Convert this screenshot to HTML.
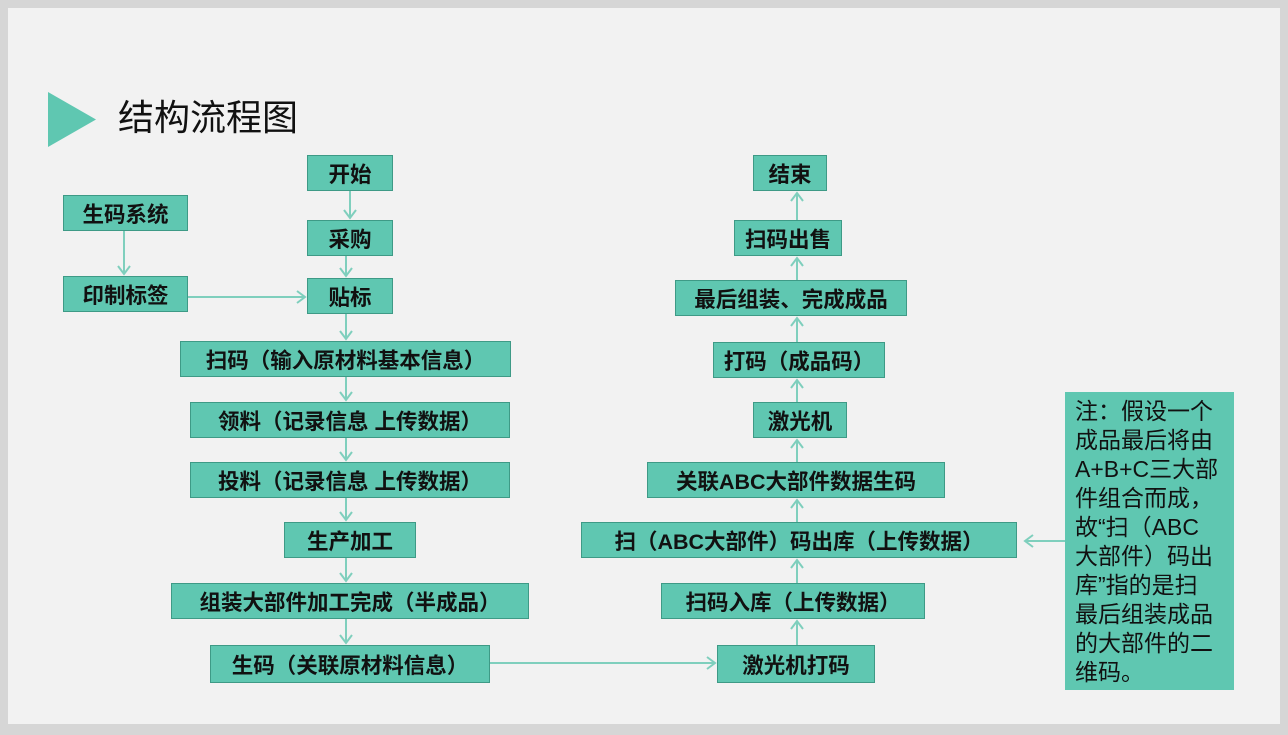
<!DOCTYPE html>
<html><head><meta charset="utf-8"><style>
body{margin:0;width:1288px;height:735px;background:#d6d6d6;position:relative;overflow:hidden;font-family:"Liberation Sans","Noto Sans CJK SC",sans-serif}
.slide{position:absolute;left:8px;top:8px;width:1272px;height:716px;background:#f2f2f2}
.b{position:absolute;box-sizing:border-box;background:#5fc7b1;border:1px solid #3e9a86;display:flex;align-items:center;justify-content:center;font-weight:bold;font-size:21.5px;color:#111;white-space:nowrap}
.note{position:absolute;left:1065px;top:392px;width:169px;height:298px;background:#5fc7b1;box-sizing:border-box;padding:5px 0 0 10px;font-size:23px;line-height:29px;color:#111;white-space:nowrap}
svg{position:absolute;left:0;top:0}
</style></head><body>
<div class="slide"></div>
<svg width="1288" height="735">
<polygon points="48,92 96,119.5 48,147" fill="#5fc7b1"/>
<g stroke="#7fcfbd" stroke-width="2" fill="none">
<path d="M350 191V218M344 210l6 8 6-8"/>
<path d="M346 256V276M340 268l6 8 6-8"/>
<path d="M124 231V274M118 266l6 8 6-8"/>
<path d="M188 297H305M297 291l8 6-8 6"/>
<path d="M346 314V339M340 331l6 8 6-8"/>
<path d="M346 377V400M340 392l6 8 6-8"/>
<path d="M346 438V460M340 452l6 8 6-8"/>
<path d="M346 498V520M340 512l6 8 6-8"/>
<path d="M346 558V581M340 573l6 8 6-8"/>
<path d="M346 619V643M340 635l6 8 6-8"/>
<path d="M490 663H715M707 657l8 6-8 6"/>
<path d="M797 645V621M791 629l6-8 6 8"/>
<path d="M797 583V560M791 568l6-8 6 8"/>
<path d="M797 522V500M791 508l6-8 6 8"/>
<path d="M797 462V440M791 448l6-8 6 8"/>
<path d="M797 402V380M791 388l6-8 6 8"/>
<path d="M797 342V318M791 326l6-8 6 8"/>
<path d="M797 280V258M791 266l6-8 6 8"/>
<path d="M797 220V193M791 201l6-8 6 8"/>
<path d="M1065 541H1025M1033 535l-8 6 8 6"/>
</g>
<text x="118" y="130" font-size="36" fill="#111" font-family="Liberation Sans,Noto Sans CJK SC,sans-serif">结构流程图</text>
</svg>
<div class="b" style="left:307px;top:155px;width:86px;height:36px">开始</div>
<div class="b" style="left:63px;top:195px;width:125px;height:36px">生码系统</div>
<div class="b" style="left:307px;top:220px;width:86px;height:36px">采购</div>
<div class="b" style="left:63px;top:276px;width:125px;height:36px">印制标签</div>
<div class="b" style="left:307px;top:278px;width:86px;height:36px">贴标</div>
<div class="b" style="left:180px;top:341px;width:331px;height:36px">扫码（输入原材料基本信息）</div>
<div class="b" style="left:190px;top:402px;width:320px;height:36px">领料（记录信息 上传数据）</div>
<div class="b" style="left:190px;top:462px;width:320px;height:36px">投料（记录信息 上传数据）</div>
<div class="b" style="left:284px;top:522px;width:132px;height:36px">生产加工</div>
<div class="b" style="left:171px;top:583px;width:358px;height:36px">组装大部件加工完成（半成品）</div>
<div class="b" style="left:210px;top:645px;width:280px;height:38px">生码（关联原材料信息）</div>
<div class="b" style="left:717px;top:645px;width:158px;height:38px">激光机打码</div>
<div class="b" style="left:661px;top:583px;width:264px;height:36px">扫码入库（上传数据）</div>
<div class="b" style="left:581px;top:522px;width:436px;height:36px">扫（ABC大部件）码出库（上传数据）</div>
<div class="b" style="left:647px;top:462px;width:298px;height:36px">关联ABC大部件数据生码</div>
<div class="b" style="left:753px;top:402px;width:94px;height:36px">激光机</div>
<div class="b" style="left:713px;top:342px;width:172px;height:36px">打码（成品码）</div>
<div class="b" style="left:675px;top:280px;width:232px;height:36px">最后组装、完成成品</div>
<div class="b" style="left:734px;top:220px;width:108px;height:36px">扫码出售</div>
<div class="b" style="left:753px;top:155px;width:74px;height:36px">结束</div>
<div class="note">注：假设一个<br>成品最后将由<br>A+B+C三大部<br>件组合而成，<br>故“扫（ABC<br>大部件）码出<br>库”指的是扫<br>最后组装成品<br>的大部件的二<br>维码。</div>
</body></html>
